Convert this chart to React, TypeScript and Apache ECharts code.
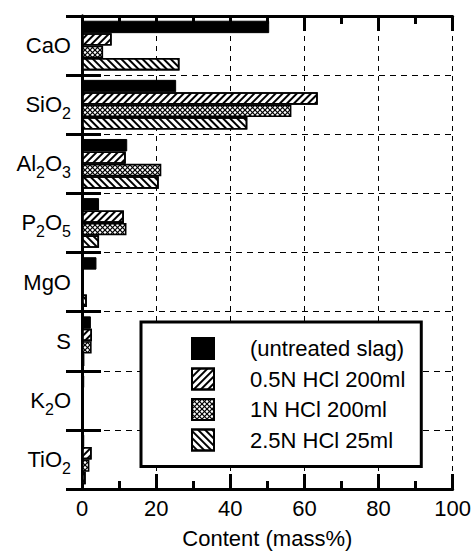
import React, { useEffect, useRef } from "react";
import * as echarts from "echarts";

const categories = ["CaO", "SiO2", "Al2O3", "P2O5", "MgO", "S", "K2O", "TiO2"];
const seriesNames = ["(untreated slag)", "0.5N HCl 200ml", "1N HCl 200ml", "2.5N HCl 25ml"];
const untreated = [50.5, 25.4, 12.2, 4.6, 3.9, 2.4, 0.6, 0.6];
const hcl05 = [8.0, 63.6, 11.8, 11.3, 0.2, 2.7, 0.2, 2.6];
const hcl1 = [5.7, 56.5, 21.4, 12.0, 0.3, 2.6, 0.2, 2.0];
const hcl25 = [26.3, 44.6, 20.7, 4.6, 1.3, 0.6, 0.5, 1.0];
const xTicks = [0, 20, 40, 60, 80, 100];

const FONT = "Liberation Sans, Arial, Helvetica, sans-serif";

function crossPattern() {
  const k = 4;
  const s = 5 * k;
  const c = document.createElement("canvas");
  c.width = s;
  c.height = s;
  const g = c.getContext("2d")!;
  g.fillStyle = "#fff";
  g.fillRect(0, 0, s, s);
  g.strokeStyle = "#000";
  g.lineWidth = 1.15 * k;
  const seg = (x1: number, y1: number, x2: number, y2: number) => {
    g.beginPath();
    g.moveTo(x1, y1);
    g.lineTo(x2, y2);
    g.stroke();
  };
  seg(-s, 2 * s, 2 * s, -s);
  seg(-s, s, s, -s);
  seg(0, 2 * s, 2 * s, 0);
  seg(-s, -s, 2 * s, 2 * s);
  seg(-s, 0, s, 2 * s);
  seg(0, -s, 2 * s, s);
  return { image: c, repeat: "repeat", scaleX: 1 / k, scaleY: 1 / k };
}

export default function App() {
  const ref = useRef<HTMLDivElement>(null);
  useEffect(() => {
    if (!ref.current) return;
    const chart = echarts.init(ref.current, undefined, { renderer: "svg" });
    const stripes = (rot: number) => ({
      symbol: "rect",
      symbolSize: 1,
      color: "#000",
      dashArrayX: [1, 0],
      dashArrayY: [1.3, 2.6],
      rotation: rot,
    });
    const decals = [null, stripes(-Math.PI / 4), null, stripes(Math.PI / 4)];
    const values = [untreated, hcl05, hcl1, hcl25];
    const series = values.map((v, i) => ({
      name: seriesNames[i],
      type: "bar",
      data: v,
      barGap: "0%",
      barCategoryGap: "16%",
      itemStyle:
        i === 0
          ? { color: "#000", borderColor: "#000", borderWidth: 1 }
          : i === 2
          ? { color: crossPattern(), borderColor: "#000", borderWidth: 1.6 }
          : { color: "#fff", borderColor: "#000", borderWidth: 1.6, decal: decals[i] },
    }));
    const yLabelFormatter = (v: string) => v.replace(/(\d)/g, "{s|$1}");
    const xAxisCommon = {
      type: "value",
      min: xTicks[0],
      max: xTicks[xTicks.length - 1],
      interval: 20,
      axisLine: { show: true, lineStyle: { color: "#000", width: 3 } },
      axisTick: { show: true, inside: true, length: 15, lineStyle: { color: "#000", width: 3 } },
      minorTick: { show: true, splitNumber: 2, length: 8, lineStyle: { color: "#000", width: 3 } },
    };
    const yAxisCommon = {
      type: "category",
      data: categories,
      inverse: true,
      axisLine: { show: true, lineStyle: { color: "#000", width: 3 } },
      axisTick: { show: true, inside: false, interval: 0, lineStyle: { color: "#000", width: 3 } },
    };
    chart.setOption({
      animation: false,
      textStyle: { fontFamily: FONT, color: "#000" },
      grid: { left: 82, right: 19, top: 16, bottom: 61 },
      xAxis: [
        {
          ...xAxisCommon,
          position: "bottom",
          axisLabel: { fontSize: 22, color: "#000", margin: 8, fontFamily: FONT },
          splitLine: { show: true, lineStyle: { color: "#000", width: 1, type: [5, 5] } },
          name: "Content (mass%)",
          nameLocation: "middle",
          nameGap: 38,
          nameTextStyle: { fontSize: 22, color: "#000", fontFamily: FONT },
        },
        {
          ...xAxisCommon,
          position: "top",
          axisLabel: { show: false },
          splitLine: { show: false },
        },
      ],
      yAxis: [
        {
          ...yAxisCommon,
          position: "left",
          axisTick: { ...yAxisCommon.axisTick, length: 16 },
          axisLabel: {
            fontSize: 22,
            color: "#000",
            margin: 11,
            fontFamily: FONT,
            lineHeight: 22,
            formatter: yLabelFormatter,
            rich: {
              s: { fontSize: 16, lineHeight: 16, padding: [18, 0, 0, 0], color: "#000", fontFamily: FONT },
            },
          },
          splitLine: { show: true, interval: 0, lineStyle: { color: "#000", width: 1, type: [6, 5] } },
        },
        {
          ...yAxisCommon,
          position: "right",
          axisTick: { ...yAxisCommon.axisTick, length: 19 },
          axisLabel: { show: false },
          splitLine: { show: false },
        },
      ],
      legend: {
        data: seriesNames,
        orient: "vertical",
        left: 141,
        top: 322,
        icon: "rect",
        itemWidth: 22,
        itemHeight: 21,
        itemGap: 7.5,
        padding: [15, 16, 15, 50],
        borderColor: "#000",
        borderWidth: 3,
        backgroundColor: "#fff",
        selectedMode: false,
        textStyle: { fontSize: 22, color: "#000", fontFamily: FONT, padding: [0, 0, 0, 31] },
      },
      series,
    });
    return () => chart.dispose();
  }, []);
  return (
    <div
      ref={ref}
      style={{ position: "fixed", left: 0, top: 0, width: 474, height: 554, background: "#fff" }}
    />
  );
}
